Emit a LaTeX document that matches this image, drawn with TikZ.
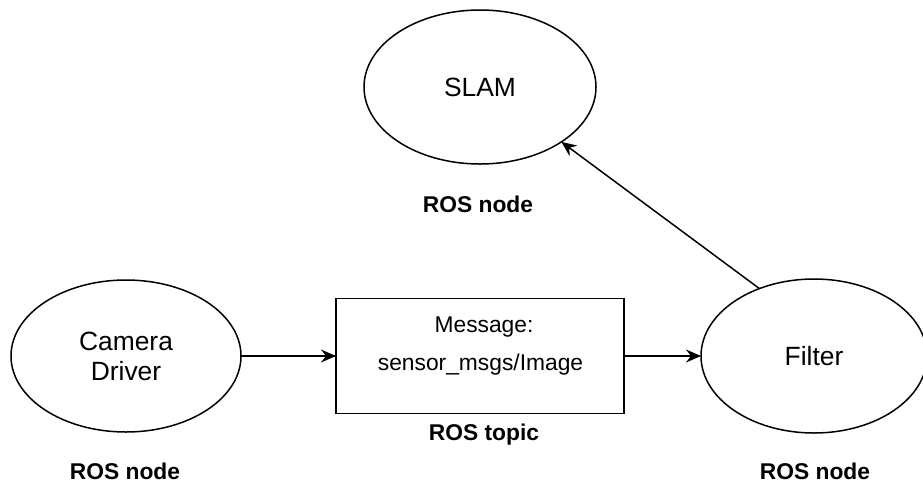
\documentclass[tikz,border=0pt]{standalone}
\usepackage{fontspec}
\setmainfont{Liberation Sans}
\usetikzlibrary{shapes.geometric,arrows.meta}
\begin{document}
\begin{tikzpicture}[x=1pt,y=-1pt,
  every node/.style={font=\fontsize{22.8}{29}\selectfont},
  ell/.style={draw, ellipse, line width=1.5pt, inner sep=0pt, outer sep=0pt, minimum height=154pt, align=center, font=\fontsize{26.4}{30}\selectfont},
  topicbox/.style={draw, rectangle, line width=1.5pt, minimum width=288pt, minimum height=115pt, inner sep=0pt, outer sep=0pt},
  lbl/.style={font=\bfseries\fontsize{22.8}{29}\selectfont, anchor=base, inner sep=0pt},
  txt/.style={anchor=base, inner sep=0pt},
  arr/.style={-{Stealth[length=15pt,width=13pt,inset=5pt]}, line width=1.5pt}]
\useasboundingbox (0,0) rectangle (923,483);
\node[ell, minimum width=232pt] (slam) at (480,87) {SLAM};
\node[ell, minimum width=230pt, minimum height=152pt] (cam) at (126,356) {Camera\\Driver};
\node[topicbox] (topic) at (480,356) {};
\node[ell, minimum width=226pt] (filt) at (814,356) {Filter};
\node[txt] (msg) at (484,332) {Message:};
\node[txt] (type) at (480.5,370) {sensor\_msgs/Image};
\node[lbl] (slamlbl) at (478,212) {ROS node};
\node[lbl] (camlbl) at (125,479) {ROS node};
\node[lbl] (topiclbl) at (484,440) {ROS topic};
\node[lbl] (filtlbl) at (815,479) {ROS node};
\draw[arr] (cam.east) -- (topic.west);
\draw[arr] (topic.east) -- (filt.west);
\draw[arr] (filt.129.5) -- (slam.-34);
\end{tikzpicture}
\end{document}
